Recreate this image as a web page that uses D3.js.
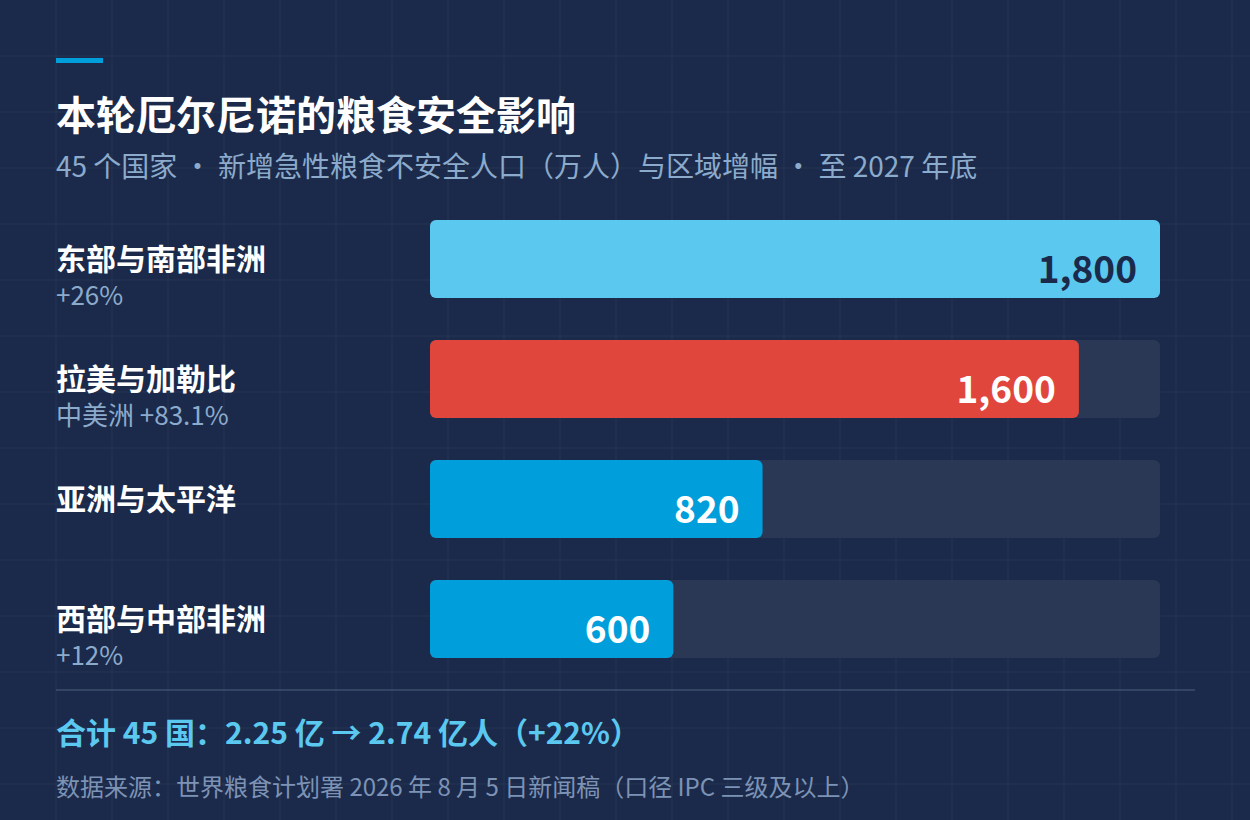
<!DOCTYPE html>
<html>
<head>
<meta charset="utf-8">
<script src="https://cdn.jsdelivr.net/npm/d3@7"></script>
<style>
  body { margin: 0; background: #1b2a4a; }
  svg { display: block; font-family: "Noto Sans CJK SC", "Noto Sans", sans-serif; }
</style>
</head>
<body>
<div id="chart-area"></div>
<script>
// datos del gráfico
const regions = ["东部与南部非洲", "拉美与加勒比", "亚洲与太平洋", "西部与中部非洲"];
const subLabels = ["+26%", "中美洲 +83.1%", "", "+12%"];
const values = [1800, 1600, 820, 600];
const barColors = ["#5bc8f0", "#e0463b", "#009fdb", "#009fdb"];
const labelColors = ["#1b2a4a", "#ffffff", "#ffffff", "#ffffff"];

const title = "本轮厄尔尼诺的粮食安全影响";
const subtitle = "45 个国家 · 新增急性粮食不安全人口（万人）与区域增幅 · 至 2027 年底";
const totalText = "合计 45 国：2.25 亿 → 2.74 亿人（+22%）";
const sourceText = "数据来源：世界粮食计划署 2026 年 8 月 5 日新闻稿（口径 IPC 三级及以上）";

const width = 1250;
const height = 820;

const svg = d3.select("#chart-area")
    .append("svg")
    .attr("width", width)
    .attr("height", height);

svg.append("rect")
    .attr("width", width)
    .attr("height", height)
    .attr("fill", "#1b2a4a");

// cuadrícula de fondo
const grid = svg.append("g").attr("stroke", "#ffffff").attr("stroke-opacity", 0.05);
d3.range(56, width, 56).forEach(x => {
    grid.append("line").attr("x1", x).attr("x2", x).attr("y1", 0).attr("y2", height);
});
d3.range(56, height, 56).forEach(y => {
    grid.append("line").attr("x1", 0).attr("x2", width).attr("y1", y).attr("y2", y);
});

// encabezado
svg.append("rect")
    .attr("x", 56).attr("y", 58)
    .attr("width", 47).attr("height", 5)
    .attr("fill", "#009fdb");

svg.append("text")
    .attr("x", 56).attr("y", 130)
    .attr("fill", "#ffffff")
    .attr("font-size", 40)
    .attr("font-weight", 700)
    .text(title);

svg.append("text")
    .attr("x", 56).attr("y", 177)
    .attr("fill", "#8cabcc")
    .attr("font-size", 28)
    .text(subtitle);

// escalas
const x = d3.scaleLinear()
    .domain([0, 1800])
    .range([430, 1160]);

const barH = 78;
const step = 120;
const yTop = (d, i) => 220 + i * step;

// pista de fondo
svg.selectAll("rect.track")
    .data(regions)
    .enter()
    .append("rect")
    .attr("class", "track")
    .attr("x", x(0))
    .attr("y", yTop)
    .attr("width", x(1800) - x(0))
    .attr("height", barH)
    .attr("rx", 6)
    .attr("fill", "#2b3855");

// barras
svg.selectAll("rect.bar")
    .data(values)
    .enter()
    .append("rect")
    .attr("class", "bar")
    .attr("x", x(0))
    .attr("y", yTop)
    .attr("width", d => x(d) - x(0))
    .attr("height", barH)
    .attr("rx", 6)
    .attr("fill", (d, i) => barColors[i]);

// valores
svg.selectAll("text.value")
    .data(values)
    .enter()
    .append("text")
    .attr("class", "value")
    .attr("x", d => x(d) - 23)
    .attr("y", (d, i) => yTop(d, i) + barH - 15)
    .attr("text-anchor", "end")
    .attr("font-size", 37)
    .attr("font-weight", 700)
    .attr("fill", (d, i) => labelColors[i])
    .text(d => d3.format(",")(d));

// etiquetas de regiones
svg.selectAll("text.region")
    .data(regions)
    .enter()
    .append("text")
    .attr("class", "region")
    .attr("x", 56)
    .attr("y", (d, i) => yTop(d, i) + barH / 2 + 11)
    .attr("font-size", 30)
    .attr("font-weight", 700)
    .attr("fill", "#ffffff")
    .text(d => d);

svg.selectAll("text.sub")
    .data(subLabels)
    .enter()
    .append("text")
    .attr("class", "sub")
    .attr("x", 56)
    .attr("y", (d, i) => yTop(d, i) + barH / 2 + 46)
    .attr("font-size", 26)
    .attr("fill", "#8cabcc")
    .text(d => d);

// pie
svg.append("line")
    .attr("x1", 56).attr("x2", 1195)
    .attr("y1", 690).attr("y2", 690)
    .attr("stroke", "#3e4f6e")
    .attr("stroke-width", 1.5);

svg.append("text")
    .attr("x", 56).attr("y", 744)
    .attr("fill", "#5bc8f0")
    .attr("font-size", 30)
    .attr("font-weight", 700)
    .text(totalText);

svg.append("text")
    .attr("x", 56).attr("y", 796)
    .attr("fill", "#7d93b5")
    .attr("font-size", 24)
    .text(sourceText);
</script>
</body>
</html>
